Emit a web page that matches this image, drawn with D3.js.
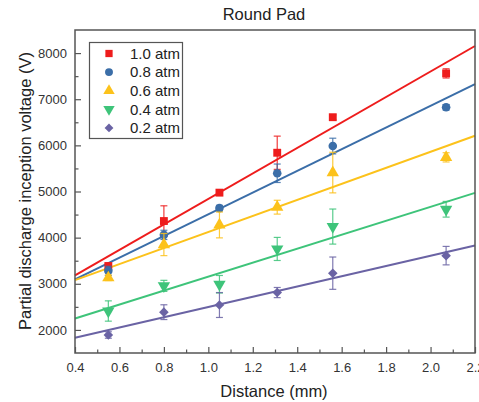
<!DOCTYPE html>
<html>
<head>
<meta charset="utf-8">
<script src="https://cdn.jsdelivr.net/npm/d3@7"></script>
<style>
  html, body { margin: 0; padding: 0; background: #fff; }
  svg { display: block; font-family: Arial, "Liberation Sans", sans-serif; }
</style>
</head>
<body>
<svg id="chart" width="479" height="402"></svg>
<script>
// Gap distance (mm)
const distances = [0.55, 0.8, 1.05, 1.31, 1.56, 2.07];

// Series labels (pressure)
const seriesNames = ["1.0 atm", "0.8 atm", "0.6 atm", "0.4 atm", "0.2 atm"];

// Mean PDIV (V) for each pressure
const pdiv10 = [3385, 4360, 4975, 5840, 6610, 7560];
const pdiv08 = [3280, 4060, 4640, 5395, 5985, 6825];
const pdiv06 = [3130, 3850, 4275, 4660, 5410, 5740];
const pdiv04 = [2410, 2955, 2990, 3755, 4240, 4615];
const pdiv02 = [1890, 2385, 2540, 2810, 3230, 3610];

// Error bar half-widths (V)
const err10 = [60, 330, 60, 360, 50, 100];
const err08 = [100, 100, 60, 200, 170, 60];
const err06 = [60, 240, 280, 150, 440, 100];
const err04 = [220, 120, 190, 250, 380, 170];
const err02 = [70, 160, 270, 110, 350, 200];

const xTicks = [0.4, 0.6, 0.8, 1.0, 1.2, 1.4, 1.6, 1.8, 2.0, 2.2];
const yTicks = [2000, 3000, 4000, 5000, 6000, 7000, 8000];

const colors = ["#ee1c1c", "#3b6ea8", "#fcc21b", "#3ec47a", "#6a63a4"];
// diamond drawn as a square turned 45 degrees
const symbols = [d3.symbolSquare, d3.symbolCircle, d3.symbolTriangle, d3.symbolTriangle, d3.symbolSquare];
const symbolSizes = [62, 58, 66, 66, 46];
const symbolRot = [0, 0, 0, 180, 45];

const values = [pdiv10, pdiv08, pdiv06, pdiv04, pdiv02];
const errors = [err10, err08, err06, err04, err02];

const series = seriesNames.map((name, i) => ({
  name, color: colors[i], symbol: symbols[i], size: symbolSizes[i], rot: symbolRot[i],
  points: distances.map((d, j) => ({ x: d, y: values[i][j], e: errors[i][j] }))
}));

// Least-squares linear fit
function linFit(pts) {
  const mx = d3.mean(pts, p => p.x), my = d3.mean(pts, p => p.y);
  const sxy = d3.sum(pts, p => (p.x - mx) * (p.y - my));
  const sxx = d3.sum(pts, p => (p.x - mx) ** 2);
  const slope = sxy / sxx;
  return x => my + slope * (x - mx);
}

const svg = d3.select("#chart");
const plotL = 75, plotR = 475, plotT = 30, plotB = 353;

const x = d3.scaleLinear().domain([0.4, 2.2]).range([plotL, plotR]);
const y = d3.scaleLinear().domain([1500, 8500]).range([plotB, plotT]);

const axisColor = "#555";

// Title
svg.append("text").attr("x", 264).attr("y", 20).attr("text-anchor", "middle")
  .attr("font-size", 16.5).attr("fill", "#222").text("Round Pad");

// Fit lines (behind markers)
const plot = svg.append("g");
series.forEach(s => {
  const f = linFit(s.points);
  plot.append("line")
    .attr("x1", x(0.4)).attr("y1", y(f(0.4)))
    .attr("x2", x(2.2)).attr("y2", y(f(2.2)))
    .attr("stroke", s.color).attr("stroke-width", 2);
});

// Error bars and markers
series.forEach(s => {
  const g = plot.append("g");
  s.points.forEach(p => {
    const cx = x(p.x);
    g.append("line").attr("x1", cx).attr("x2", cx)
      .attr("y1", y(p.y - p.e)).attr("y2", y(p.y + p.e))
      .attr("stroke", s.color).attr("stroke-width", 1.2).attr("opacity", 0.85);
    [p.y - p.e, p.y + p.e].forEach(v => {
      g.append("line").attr("x1", cx - 3.5).attr("x2", cx + 3.5)
        .attr("y1", y(v)).attr("y2", y(v))
        .attr("stroke", s.color).attr("stroke-width", 1.2).attr("opacity", 0.85);
    });
    g.append("path")
      .attr("d", d3.symbol().type(s.symbol).size(s.size)())
      .attr("transform", `translate(${cx},${y(p.y)}) rotate(${s.rot})`)
      .attr("fill", s.color);
  });
});

// Axes with inward ticks
const xAxis = svg.append("g").attr("transform", `translate(0,${plotB})`)
  .call(d3.axisBottom(x).tickValues(xTicks).tickFormat(d3.format(".1f")).tickSizeInner(-6).tickSizeOuter(0).tickPadding(10));
const xMinor = svg.append("g").attr("transform", `translate(0,${plotB})`)
  .call(d3.axisBottom(x).tickValues(d3.range(0.5, 2.2, 0.2)).tickFormat("").tickSizeInner(-3.5).tickSizeOuter(0));
const yAxis = svg.append("g").attr("transform", `translate(${plotL},0)`)
  .call(d3.axisLeft(y).tickValues(yTicks).tickFormat(d3.format("d")).tickSizeInner(-6).tickSizeOuter(0).tickPadding(8));
const yMinor = svg.append("g").attr("transform", `translate(${plotL},0)`)
  .call(d3.axisLeft(y).tickValues(d3.range(2500, 8500, 1000)).tickFormat("").tickSizeInner(-3.5).tickSizeOuter(0));

[xAxis, xMinor, yAxis, yMinor].forEach(a => {
  a.select(".domain").remove();
  a.selectAll(".tick line").attr("stroke", axisColor).attr("stroke-width", 1.2);
  a.selectAll("text").attr("font-size", 13).attr("fill", "#333").attr("font-family", "Arial, 'Liberation Sans', sans-serif");
});

// Frame
svg.append("rect").attr("x", plotL).attr("y", plotT)
  .attr("width", plotR - plotL).attr("height", plotB - plotT)
  .attr("fill", "none").attr("stroke", axisColor).attr("stroke-width", 1.5);

// Axis labels
svg.append("text").attr("x", 274).attr("y", 397).attr("text-anchor", "middle")
  .attr("font-size", 16.5).attr("fill", "#222").text("Distance (mm)");
svg.append("text").attr("transform", "translate(31,191) rotate(-90)").attr("text-anchor", "middle")
  .attr("font-size", 16.5).attr("fill", "#222").text("Partial discharge inception voltage (V)");

// Legend
const legend = svg.append("g");
legend.append("rect").attr("x", 89.5).attr("y", 42.5).attr("width", 93).attr("height", 96)
  .attr("fill", "#fff").attr("stroke", axisColor).attr("stroke-width", 1.2);
series.forEach((s, i) => {
  const ly = 53.5 + i * 18.6;
  legend.append("path")
    .attr("d", d3.symbol().type(s.symbol).size(s.size * 0.85)())
    .attr("transform", `translate(109,${ly}) rotate(${s.rot})`)
    .attr("fill", s.color);
  legend.append("text").attr("x", 130).attr("y", ly + 5.3)
    .attr("font-size", 15).attr("fill", "#222").text(s.name);
});
</script>
</body>
</html>
